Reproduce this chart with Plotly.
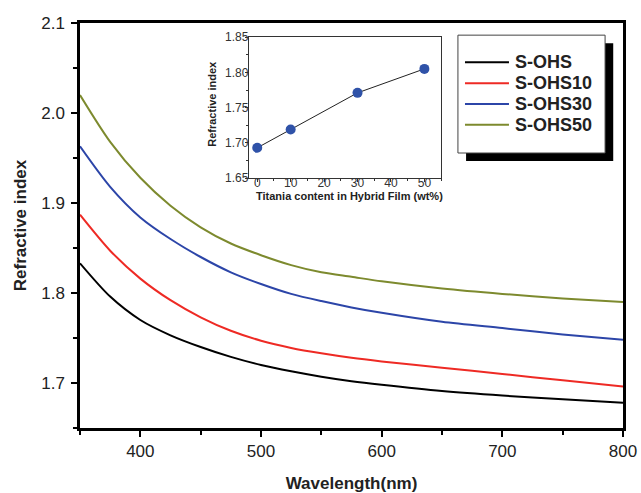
import plotly.graph_objects as go

# spettri dell'indice di rifrazione
wavelength = [350, 375, 400, 425, 450, 475, 500, 525, 550, 575, 600, 650, 700, 750, 800]
s_ohs = [1.833, 1.796, 1.770, 1.753, 1.740, 1.729, 1.720, 1.713, 1.707, 1.702, 1.698, 1.691, 1.686, 1.682, 1.678]
s_ohs10 = [1.887, 1.847, 1.816, 1.792, 1.773, 1.758, 1.747, 1.739, 1.733, 1.728, 1.724, 1.717, 1.710, 1.703, 1.696]
s_ohs30 = [1.963, 1.918, 1.884, 1.860, 1.840, 1.823, 1.810, 1.799, 1.791, 1.784, 1.778, 1.768, 1.761, 1.754, 1.748]
s_ohs50 = [2.020, 1.968, 1.928, 1.897, 1.873, 1.855, 1.842, 1.831, 1.823, 1.818, 1.813, 1.805, 1.799, 1.794, 1.790]

# inserto: indice vs contenuto di titania
titania = [0, 10, 30, 50]
n_titania = [1.693, 1.719, 1.771, 1.805]

series = [
    ("S-OHS", s_ohs, "#000000"),
    ("S-OHS10", s_ohs10, "#ee2a24"),
    ("S-OHS30", s_ohs30, "#2c45a8"),
    ("S-OHS50", s_ohs50, "#7d8a2e"),
]

font = "Liberation Sans, Arial, sans-serif"

fig = go.Figure()
for name, vals, col in series:
    fig.add_trace(go.Scatter(x=wavelength, y=vals, name=name, mode="lines", showlegend=False,
                             line=dict(color=col, width=2, shape="spline", smoothing=0.8)))

fig.add_trace(go.Scatter(x=titania, y=n_titania, xaxis="x2", yaxis="y2", mode="lines+markers",
                         line=dict(color="#222222", width=1),
                         marker=dict(color="#2f52a8", size=10), showlegend=False))

ax = dict(showline=True, linecolor="black", linewidth=2.5, mirror=True, ticks="outside",
          ticklen=6, tickwidth=2, tickcolor="black", showgrid=False, zeroline=False,
          automargin=False, tickfont=dict(size=17, family=font, color="#222"))

inset_ax = dict(showline=True, linecolor="#333", linewidth=1, mirror=True, ticks="outside",
                ticklen=3, tickwidth=1, tickcolor="#333", showgrid=False, zeroline=False,
                tickfont=dict(size=12, family=font, color="#333"))

# legenda disegnata a mano: riquadro con ombra, come nell'originale
legend_box = [0.696, 0.967, 0.679, 0.970]
shadow = 0.015
shapes = [
    dict(type="rect", xref="paper", yref="paper", x0=legend_box[0] + shadow, x1=legend_box[1] + shadow,
         y0=legend_box[2] - 0.02, y1=legend_box[3] - 0.02, fillcolor="black", line=dict(width=0), layer="above"),
    dict(type="rect", xref="paper", yref="paper", x0=legend_box[0], x1=legend_box[1],
         y0=legend_box[2], y1=legend_box[3], fillcolor="white", line=dict(color="#444", width=1), layer="above"),
]
annotations = []
row_top, row_step = 0.903, 0.0515
for i, (name, _, col) in enumerate(series):
    yy = row_top - i * row_step
    shapes.append(dict(type="line", xref="paper", yref="paper", x0=0.709, x1=0.790, y0=yy, y1=yy,
                       line=dict(color=col, width=2), layer="above"))
    annotations.append(dict(text="<b>%s</b>" % name, xref="paper", yref="paper", x=0.797, y=yy,
                            xanchor="left", yanchor="middle", showarrow=False,
                            font=dict(size=18, family=font, color="#222")))

annotations += [
    dict(text="<b>Titania content in Hybrid Film (wt%)</b>", xref="x2 domain", yref="y2 domain",
         x=0.523, y=-0.125, xanchor="center", yanchor="middle", showarrow=False,
         font=dict(size=11, family=font, color="#222")),
    dict(text="<b>Refractive index</b>", xref="x2 domain", yref="y2 domain", textangle=-90,
         x=-0.19, y=0.53, xanchor="center", yanchor="middle", showarrow=False,
         font=dict(size=11, family=font, color="#222")),
]

fig.update_layout(
    width=641, height=493,
    margin=dict(l=80, r=18, t=23, b=65),
    paper_bgcolor="white", plot_bgcolor="white",
    xaxis=dict(ax, range=[350, 800], dtick=100,
               minor=dict(dtick=50, ticks="outside", ticklen=4, tickwidth=2, tickcolor="black"),
               title=dict(text="<b>Wavelength(nm)</b>", font=dict(size=17, family=font, color="#222"), standoff=19)),
    yaxis=dict(ax, range=[1.65, 2.1], dtick=0.1, tickformat=".1f", ticklabelstandoff=3,
               minor=dict(dtick=0.05, ticks="outside", ticklen=4, tickwidth=2, tickcolor="black"),
               title=dict(text="<b>Refractive index</b>", font=dict(size=17, family=font, color="#222"), standoff=11)),
    xaxis2=dict(inset_ax, domain=[0.311, 0.665], anchor="y2", range=[-2.5, 55], dtick=10,
                ticklabelstandoff=-10,
                minor=dict(dtick=5, ticks="outside", ticklen=2, tickcolor="#333")),
    yaxis2=dict(inset_ax, domain=[0.617, 0.965], anchor="x2", range=[1.65, 1.85], dtick=0.05,
                tickformat=".2f", ticklabelstandoff=-6,
                minor=dict(dtick=0.025, ticks="outside", ticklen=2, tickcolor="#333")),
    shapes=shapes,
    annotations=annotations,
)

# la pagina ha un margine di 8px sul body: lo tolgo
fig.write_html("out.html", config={"displayModeBar": False},
               post_script="document.body.style.margin='0px';")
